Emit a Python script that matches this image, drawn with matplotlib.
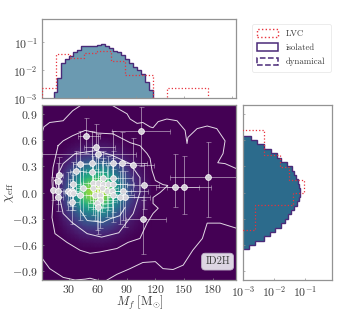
import numpy as np
import matplotlib
matplotlib.use("Agg")
import matplotlib.pyplot as plt
from matplotlib.patches import Patch

plt.rcParams['font.family'] = ['cmr10', 'DejaVu Sans']
plt.rcParams['mathtext.fontset'] = 'cm'
plt.rcParams['axes.formatter.use_mathtext'] = True
plt.rcParams['axes.unicode_minus'] = False

# mass histograms
mass_edges = [14.0, 18.1, 22.3, 26.4, 30.5, 34.7, 38.8, 42.9, 47.1, 51.2, 55.3, 59.5, 63.6,
              67.7, 71.9, 76.0, 80.1, 84.3, 88.4, 92.5, 96.7, 100.8, 104.9, 109.1, 113.2, 117.4]
mass_iso = [1.6e-3, 5.2e-3, 1.78e-2, 2.54e-2, 3.25e-2, 4.5e-2, 5.2e-2, 7.6e-2, 7.6e-2, 7.6e-2, 7.6e-2,
            7.8e-2, 8.5e-2, 7.6e-2, 6.4e-2, 5.0e-2, 4.4e-2, 3.6e-2, 2.47e-2, 1.78e-2, 1.28e-2,
            1.0e-2, 7.4e-3, 3.9e-3, 2.0e-3]
mass_lvc_edges = [2.0, 16.4, 30.9, 45.3, 59.7, 74.1, 88.6, 103.0, 117.4, 131.9, 146.3, 160.7, 175.1, 189.6, 204.0]
mass_lvc = [2.3e-3, 3.7e-2, 2.7e-2, 4.3e-2, 5.0e-2, 2.1e-2, 7.0e-3, 7.0e-3, 1e-6, 2.3e-3, 2.3e-3, 2.3e-3, 1e-6, 1e-6]

# spin histograms, bottom to top
chi_edges = [-0.65, -0.6, -0.55, -0.5, -0.45, -0.4, -0.35, -0.3, -0.25, -0.2, -0.15, -0.1, -0.05, 0.0,
             0.05, 0.1, 0.15, 0.2, 0.25, 0.3, 0.35, 0.4, 0.45, 0.5, 0.55, 0.6, 0.65]
chi_iso = [1.6e-3, 2.4e-3, 4.7e-3, 7.7e-3, 1.1e-2, 1.7e-2, 2.3e-2, 2.8e-2, 3.55e-2, 4.3e-2, 5.5e-2, 6.3e-2, 6.9e-2,
           6.9e-2, 6.6e-2, 5.8e-2, 5.2e-2, 4.5e-2, 3.7e-2, 2.65e-2, 1.7e-2, 1.26e-2, 8.1e-3, 4.6e-3, 2.8e-3, 1.85e-3]
chi_lvc_edges = [-0.429, -0.286, -0.143, 0.0, 0.143, 0.286, 0.429, 0.571, 0.714]
chi_lvc = [2.4e-3, 2.4e-3, 4.2e-2, 9.5e-2, 3.0e-2, 1.6e-2, 4.7e-3, 4.7e-3]

# events
ev_m = [58, 60, 48, 105, 175, 141, 150, 108, 97, 107, 41.6, 54, 76, 85, 19.7, 18.7, 13.5, 18.7, 18.7, 29, 34, 33, 33,
        41.6, 45, 54, 37.4, 65.5, 76, 55, 60, 65.5, 71, 76, 31, 34, 55, 64.5, 70, 75, 86, 57, 62, 76, 88.5, 83, 62, 59, 60]
ev_chi = [.52, .445, .65, .70, .18, .06, .06, .09, .32, -.30, .33, .34, .34, .34, .205, .137, .034, .02, -.057, .02, .10, .02, -.11,
          -.034, .046, .24, .25, .17, .17, .114, .114, .10, .10, .10, 0, 0, .046, .057, .02, .02, .02, -.034, -.034, -.034, -.057, -.057, -.09, -.125, -.17]
ev_m_lo = [12, 58, 8, 30, 40, 20, 18, 18, 15, 18, 7, 9, 12, 13, 3, 3, 2, 3, 3, 4, 5, 5, 5,
           7, 8, 9, 6, 10, 12, 10, 10, 10, 11, 12, 5, 5, 9, 10, 11, 11, 13, 9, 10, 12, 14, 13, 10, 9, 10]
ev_m_hi = [20, 40, 14, 30, 40, 24, 28, 16, 22, 24, 10, 15, 22, 26, 4, 4, 3, 5, 5, 7, 9, 8, 8,
           12, 14, 16, 10, 16, 20, 16, 16, 18, 20, 22, 7, 9, 15, 17, 20, 20, 26, 15, 18, 22, 26, 24, 18, 16, 16]
ev_chi_lo = [.25, .30, .20, .40, .46, .23, .30, .28, .30, .40, .25, .30, .30, .30, .15, .15, .12, .15, .15, .22, .25, .22, .25,
             .28, .30, .28, .25, .30, .28, .30, .32, .28, .30, .32, .15, .20, .30, .28, .30, .30, .33, .28, .30, .30, .34, .30, .32, .30, .30]
ev_chi_hi = [.26, .22, .20, .28, .40, .38, .36, .25, .30, .22, .37, .36, .36, .35, .20, .20, .14, .18, .18, .22, .25, .22, .20,
             .28, .28, .28, .22, .30, .30, .30, .28, .30, .32, .30, .15, .20, .28, .30, .30, .30, .33, .28, .28, .30, .30, .30, .28, .26, .26]

# contour lines
c1_m = [2, 4, 10, 24, 34, 41.6]
c1_chi = [.68, .75, .80, .82, .935, .99]
c2_m = [76, 90.5, 93.7, 101, 107, 114.5, 117.6, 123, 132, 142.6, 151, 153, 154, 163.5, 174, 184, 192.6, 190.5, 185, 192.6, 205]
c2_chi = [.99, .90, .84, .79, .80, .75, .74, .81, .84, .82, .71, .56, .63, .73, .76, .73, .59, .445, .34, .33, .27]
c3_m = [18.7, 24, 34, 47, 59, 76, 93.7, 104, 111.4, 114.5, 116.6, 120, 128, 133, 125, 117.6, 117.6, 123, 117.6, 111.4, 104,
        91.6, 80, 62, 52, 41.6, 28, 15.5, 12.4, 13.5, 12.4, 13.5, 18.7]
c3_chi = [.535, .59, .65, .71, .68, .67, .57, .535, .445, .39, .25, .137, .09, .08, 0, -.057, -.125, -.18, -.24, -.35, -.525,
          -.57, -.64, -.68, -.695, -.66, -.57, -.47, -.285, -.09, .137, .285, .535]
c4_m = [15.5, 24, 36.4, 59, 76, 93.7, 104, 104, 97, 82, 64, 49, 33, 24, 21, 15.5]
c4_chi = [.137, .33, .445, .48, .42, .33, .17, 0, -.24, -.46, -.51, -.47, -.34, -.24, -.09, .137]
c5_m = [42, 49, 65.5, 73, 83, 88.5]
c5_chi = [-.205, -.32, -.34, -.30, -.265, -.17]
c6_m = [2, 10, 24, 36.4, 47, 52, 62]
c6_chi = [-.75, -.87, -.97, -1.0, -.99, -.98, -1.01]
c7_m = [69.7, 80, 93.7, 107, 120, 128, 138.5, 149, 159, 169, 174, 187.4, 205]
c7_chi = [-1.0, -.935, -.87, -.80, -.79, -.87, -.88, -.83, -.66, -.525, -.35, -.35, -.41]

purple = '#4a2a78'
spine_col = '#939393'
label_col = '#3a3a3a'


def style_axes(ax):
    for s in ax.spines.values():
        s.set_color(spine_col)
        s.set_linewidth(0.9)
    ax.tick_params(direction='in', length=1.5, width=0.5, color=spine_col, labelsize=8.5,
                   labelcolor=label_col, pad=3)
    ax.tick_params(which='minor', length=0)


W, H = 353.0, 318.0
fig = plt.figure(figsize=(W / 100, H / 100), dpi=100)
ax_main = fig.add_axes([42 / W, 1 - 280 / H, 194 / W, 175 / H])
ax_top = fig.add_axes([42 / W, 1 - 98 / H, 194 / W, 79 / H])
ax_right = fig.add_axes([243 / W, 1 - 280 / H, 89 / W, 175 / H])

# density made from the two marginals, smoothed a bit
mass_edges_a = np.array(mass_edges)
chi_edges_a = np.array(chi_edges)
mass_cent = (mass_edges_a[1:] + mass_edges_a[:-1]) / 2
chi_cent = (chi_edges_a[1:] + chi_edges_a[:-1]) / 2
kernel = np.array([1, 2, 3, 2, 1]) / 9.0
mass_smooth = np.convolve(mass_iso, kernel, mode='same')
chi_smooth = np.convolve(chi_iso, kernel, mode='same')
density = np.outer(chi_smooth, mass_smooth)
ax_main.set_facecolor('#440154')
ax_main.pcolormesh(mass_cent, chi_cent, density, shading='gouraud', cmap='viridis',
                   vmin=density.max() * 0.01, vmax=density.max() / 0.88, zorder=1)

for cm, cc in [(c1_m, c1_chi), (c2_m, c2_chi), (c3_m, c3_chi), (c4_m, c4_chi),
               (c5_m, c5_chi), (c6_m, c6_chi), (c7_m, c7_chi)]:
    ax_main.plot(cm, cc, color='white', lw=0.7, alpha=0.85, zorder=2)

ax_main.errorbar(ev_m, ev_chi, xerr=[ev_m_lo, ev_m_hi], yerr=[ev_chi_lo, ev_chi_hi], fmt='none',
                 ecolor='white', elinewidth=0.65, capsize=1.8, capthick=0.5, alpha=0.5, zorder=3)
ax_main.plot(ev_m, ev_chi, 'o', ms=4.2, mfc='#dcd9df', mec='white', mew=0.6, alpha=0.92, ls='none', zorder=4)

ax_main.set_xlim(2, 204)
ax_main.set_ylim(-1, 1)
ax_main.set_xticks([30, 60, 90, 120, 150, 180])
ax_main.set_yticks([-0.9, -0.6, -0.3, 0.0, 0.3, 0.6, 0.9])
ax_main.set_yticklabels([r'$-0.9$', r'$-0.6$', r'$-0.3$', r'$0.0$', r'$0.3$', r'$0.6$', r'$0.9$'])
ax_main.set_xticklabels([r'$30$', r'$60$', r'$90$', r'$120$', r'$150$', r'$180$'])
ax_main.set_xlabel(r'$M_f\ [\mathrm{M}_{\odot}]$', fontsize=9, color=label_col)
ax_main.xaxis.set_label_coords(0.505, -0.082, transform=ax_main.transAxes)
ax_main.set_ylabel(r'$\chi_{\mathrm{eff}}$', fontsize=9.5, color=label_col, labelpad=-3)
ax_main.text(0.905, 0.105, 'ID2H', transform=ax_main.transAxes, fontsize=7.5, ha='center', va='center',
             color=label_col, zorder=6,
             bbox=dict(boxstyle='round,pad=0.35', fc='#ddd5e3', ec='#bfb3c9', lw=0.6))
style_axes(ax_main)
ax_main.tick_params(axis='x', pad=2.5)

# top marginal
ax_top.stairs(mass_iso, mass_edges, fill=True, color='#6b9ab1', baseline=1e-4, zorder=1)
ax_top.stairs(mass_iso, mass_edges, color=purple, lw=1.0, baseline=1e-4, zorder=2)
ax_top.stairs(mass_lvc, mass_lvc_edges, color='#e8323c', lw=0.9, ls=':', baseline=1e-6, zorder=3)
ax_top.set_yscale('log')
ax_top.set_xlim(2, 204)
ax_top.set_ylim(1e-3, 0.7)
ax_top.set_xticks([50, 100, 150, 200])
ax_top.set_xticklabels([])
ax_top.set_yticks([1e-3, 1e-2, 1e-1])
ax_top.set_yticklabels([r'$10^{-3}$', r'$10^{-2}$', r'$10^{-1}$'])
style_axes(ax_top)

# right marginal
ax_right.stairs(chi_iso, chi_edges, fill=True, color='#2c6b8c', orientation='horizontal', baseline=1e-4, zorder=1)
ax_right.stairs(chi_iso, chi_edges, color=purple, lw=1.0, orientation='horizontal', baseline=1e-4, zorder=2)
ax_right.stairs(chi_lvc, chi_lvc_edges, color='#e8323c', lw=0.9, ls=':', orientation='horizontal', baseline=1e-6, zorder=3)
ax_right.set_xscale('log')
ax_right.set_xlim(1e-3, 0.74)
ax_right.set_ylim(-1, 1)
ax_right.set_yticks([-0.9, -0.6, -0.3, 0.0, 0.3, 0.6, 0.9])
ax_right.set_yticklabels([])
ax_right.set_xticks([1e-3, 1e-2, 1e-1])
ax_right.set_xticklabels([r'$10^{-3}$', r'$10^{-2}$', r'$10^{-1}$'])
style_axes(ax_right)

handles = [Patch(fc='none', ec='#e8323c', ls=':', lw=1.0, label='LVC'),
           Patch(fc='none', ec=purple, lw=1.1, label='isolated'),
           Patch(fc='none', ec=purple, ls='--', lw=1.1, label='dynamical')]
leg = fig.legend(handles=handles, loc='upper left', bbox_to_anchor=(252 / W, 1 - 24 / H), borderaxespad=0,
                 fontsize=6.3, frameon=True, labelcolor=label_col, handlelength=2.4, handleheight=1.0,
                 handletextpad=0.9, labelspacing=0.6, borderpad=0.6)
leg.get_frame().set_edgecolor('#e4e4e4')
leg.get_frame().set_linewidth(0.6)

fig.savefig('out.png', dpi=100)
